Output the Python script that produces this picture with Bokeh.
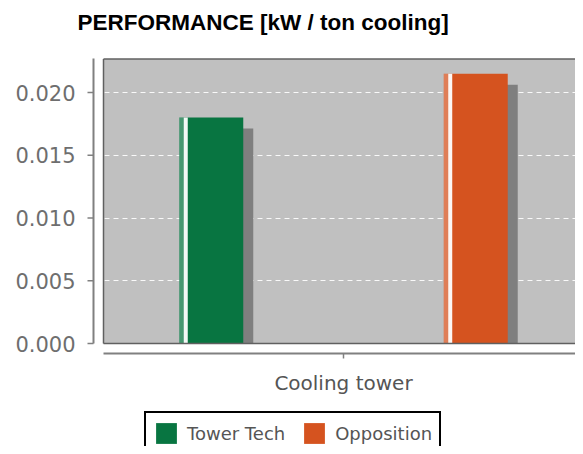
from bokeh.plotting import figure
from bokeh.models import (Range1d, FixedTicker, BoxAnnotation, Legend, LegendItem,
                          ColumnDataSource)
from bokeh.core.properties import value
from bokeh.embed import file_html
from bokeh.resources import INLINE

# ---------------- data ----------------
categories = ["Cooling tower"]
series = ["Tower Tech", "Opposition"]
tower_tech = [0.0180]
opposition = [0.0215]
series_values = [tower_tech, opposition]
series_colors = ["#087541", "#d5531f"]
y_ticks = [0.000, 0.005, 0.010, 0.015, 0.020]
y_tick_labels = ["0.000", "0.005", "0.010", "0.015", "0.020"]
title_text = "PERFORMANCE [kW  / ton cooling]"

# ---------------- layout constants (figure pixels) ----------------
W, H = 575, 446
FL = 77                                 # frame left (y tick labels outside)
PLOT_L = 103                            # grey plot-area left edge
PLOT_T = 58.5                           # grey plot-area top edge
Y0_PX = 343                             # pixel of y = 0
PX_PER_Y = 12550.0
PX_PER_X = 480.0

def xd(px):
    return (px - PLOT_L) / PX_PER_X

def yd(py):
    return (Y0_PX - py) / PX_PER_Y

group_offsets = [-0.2755, 0.2755]
bar_width = 64 / PX_PER_X
shadow_dx = 10 / PX_PER_X
shadow_dy = 11 / PX_PER_Y

p = figure(width=W, height=H, title=None,
           x_range=Range1d(xd(FL), xd(W)), y_range=Range1d(yd(H), yd(0)),
           output_backend="svg", toolbar_location=None,
           min_border_left=FL, min_border_right=0,
           min_border_top=0, min_border_bottom=0)
p.outline_line_color = None
p.background_fill_color = "white"
p.border_fill_color = "white"
p.xaxis.visible = False

# grey plot area
p.add_layout(BoxAnnotation(left=xd(PLOT_L), bottom=0, top=yd(PLOT_T),
                           fill_color="#c0c0c0", fill_alpha=1.0,
                           line_color=None, level="image"))

# grid
p.xgrid.visible = False
p.ygrid.ticker = FixedTicker(ticks=y_ticks)
p.ygrid.grid_line_color = "white"
p.ygrid.grid_line_dash = "5 4"
p.ygrid.grid_line_alpha = 0.9
p.ygrid.grid_line_width = 1

# bars
legend_items = []
for i, (name, vals, col) in enumerate(zip(series, series_values, series_colors)):
    xs = [c + 0.5 + group_offsets[i] for c in range(len(categories))]
    src = ColumnDataSource(dict(
        x=xs, top=vals,
        sx=[x + shadow_dx for x in xs],
        stop=[v - shadow_dy for v in vals],
        hx=[x - bar_width / 2 + 2.5 / PX_PER_X for x in xs],
        wx=[x - bar_width / 2 + 6.5 / PX_PER_X for x in xs],
    ))
    p.vbar(x="sx", top="stop", bottom=0, width=bar_width, source=src,
           fill_color="#7f7f7f", line_color=None)
    r = p.vbar(x="x", top="top", bottom=0, width=bar_width, source=src,
               fill_color=col, line_color=None)
    p.vbar(x="hx", top="top", bottom=0, width=5 / PX_PER_X, source=src,
           fill_color="white", fill_alpha=0.25, line_color=None)
    p.vbar(x="wx", top="top", bottom=0, width=4 / PX_PER_X, source=src,
           fill_color="white", fill_alpha=0.95, line_color=None)
    legend_items.append(LegendItem(label=name, renderers=[r]))

# plot-area border (top, left, bottom)
p.segment(x0=[xd(PLOT_L), xd(PLOT_L), xd(PLOT_L)],
          y0=[yd(PLOT_T), yd(PLOT_T), 0],
          x1=[xd(W + 5), xd(PLOT_L), xd(W + 5)],
          y1=[yd(PLOT_T), 0, 0],
          line_color="#606060", line_width=1.5)

# offset value axis line + ticks, offset category axis line + tick
p.segment(x0=[xd(93), xd(PLOT_L)], y0=[0, yd(353)],
          x1=[xd(93), xd(W + 5)], y1=[yd(58), yd(353)],
          line_color="#808080", line_width=2)
p.segment(x0=[xd(87)] * len(y_ticks), y0=y_ticks,
          x1=[xd(93)] * len(y_ticks), y1=y_ticks,
          line_color="#808080", line_width=1.5)
cat_ticks = [c + 0.5 for c in range(len(categories))]
p.segment(x0=cat_ticks, y0=[yd(353)] * len(cat_ticks),
          x1=cat_ticks, y1=[yd(358)] * len(cat_ticks),
          line_color="#808080", line_width=1.5)

# category label
p.text(x=cat_ticks, y=[yd(382)] * len(cat_ticks), text=categories,
       text_font=value("DejaVu Sans"), text_font_size="20px",
       text_color="#555555", text_align="center", text_baseline="alphabetic")

# chart title
p.text(x=[xd(77)], y=[yd(22)], text=[title_text],
       text_font=value("Liberation Sans"), text_font_style="bold",
       text_font_size="22.5px", text_color="black",
       text_align="left", text_baseline="alphabetic")

# y axis (labels only; ticks drawn offset above)
p.yaxis.ticker = FixedTicker(ticks=y_ticks)
p.yaxis.major_label_overrides = dict(zip(y_ticks, y_tick_labels))
p.yaxis.axis_line_color = None
p.yaxis.major_tick_out = 0
p.yaxis.major_tick_in = 0
p.yaxis.major_tick_line_color = None
p.yaxis.minor_tick_line_color = None
p.yaxis.major_label_standoff = 2
p.yaxis.major_label_text_font = "DejaVu Sans"
p.yaxis.major_label_text_font_size = "21px"
p.yaxis.major_label_text_color = "#6e6e6e"

# legend
legend = Legend(items=legend_items, orientation="horizontal",
                location=(144 - FL, -9))
legend.border_line_color = "black"
legend.border_line_alpha = 1.0
legend.border_line_width = 2
legend.background_fill_color = "white"
legend.background_fill_alpha = 1.0
legend.padding = 7
legend.spacing = 16
legend.margin = 0
legend.glyph_width = 26
legend.glyph_height = 26
legend.label_standoff = 8
legend.label_text_font = "DejaVu Sans"
legend.label_text_font_size = "18px"
legend.label_text_color = "#555555"
p.add_layout(legend)

open("out.html", "w").write(file_html(p, INLINE))
